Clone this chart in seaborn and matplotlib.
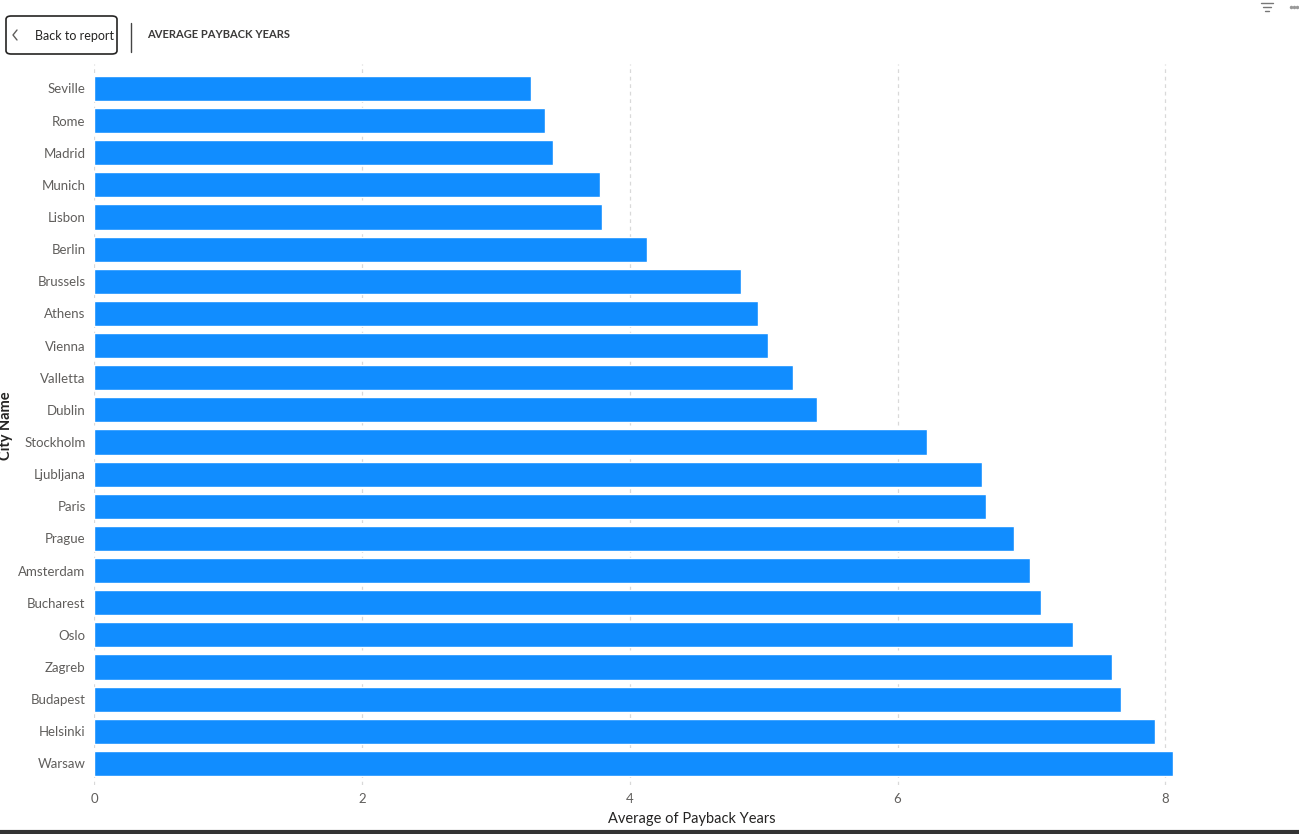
import pandas as pd
import matplotlib.pyplot as plt
import seaborn as sns
from matplotlib.patches import FancyBboxPatch

# City names and average payback years
cities = ['Seville', 'Rome', 'Madrid', 'Munich', 'Lisbon', 'Berlin', 'Brussels',
          'Athens', 'Vienna', 'Valletta', 'Dublin', 'Stockholm', 'Ljubljana',
          'Paris', 'Prague', 'Amsterdam', 'Bucharest', 'Oslo', 'Zagreb',
          'Budapest', 'Helsinki', 'Warsaw']
payback_years = [3.26, 3.37, 3.43, 3.78, 3.79, 4.13, 4.83, 4.96, 5.03, 5.22,
                 5.40, 6.22, 6.63, 6.66, 6.87, 6.99, 7.07, 7.31, 7.60, 7.67,
                 7.92, 8.06]
x_ticks = [0, 2, 4, 6, 8]

BAR_COLOR = '#118DFF'
TEXT_COLOR = '#605E5C'
W, H = 1299, 834


def fx(px):
    return px / W


def fy(py):
    return 1 - py / H


def main():
    df = pd.DataFrame({'City Name': cities, 'Average of Payback Years': payback_years})

    sns.set_theme(style='white')
    plt.rcParams['font.family'] = ['Lato', 'DejaVu Sans']

    fig = plt.figure(figsize=(W / 100, H / 100), dpi=100)
    ax = fig.add_axes([fx(94), fy(785), fx(1290 - 94), (785 - 64) / H])

    sns.barplot(data=df, x='Average of Payback Years', y='City Name', color=BAR_COLOR,
                saturation=1, width=0.78, ax=ax, orient='h')

    ax.set_xlim(0, 8.93)
    ax.set_ylim(21.67, -0.76)
    ax.set_xticks(x_ticks)
    ax.xaxis.grid(True, linestyle=(0, (3, 3)), color='#D9D9D9', linewidth=0.9)
    ax.set_axisbelow(True)
    for spine in ax.spines.values():
        spine.set_visible(False)
    ax.tick_params(axis='y', length=0, labelsize=9.5, colors=TEXT_COLOR, pad=6)
    ax.tick_params(axis='x', length=0, labelsize=9.5, colors=TEXT_COLOR, pad=6)
    ax.set_xlabel('Average of Payback Years', fontsize=10.5, color='#252423', labelpad=5)
    ax.set_ylabel('')
    fig.text(fx(6), fy(426), 'City Name', rotation=90, fontsize=10.5,
             fontweight='bold', color='#252423', va='center', ha='center')

    # Report header: back button, divider and title
    btn = FancyBboxPatch((fx(6), fy(54)), fx(111), 38 / H,
                         boxstyle='round,pad=0,rounding_size=0.004',
                         transform=fig.transFigure, facecolor='white',
                         edgecolor='#252423', linewidth=1.2)
    fig.patches.append(btn)
    fig.add_artist(plt.Line2D([fx(17), fx(13), fx(17)], [fy(30), fy(35), fy(40)],
                              transform=fig.transFigure, color=TEXT_COLOR, linewidth=1))
    fig.text(fx(35), fy(36), 'Back to report', fontsize=9, color='#252423',
             va='center', ha='left')
    fig.add_artist(plt.Line2D([fx(131), fx(131)], [fy(23), fy(52)],
                              transform=fig.transFigure, color='#444444', linewidth=1))
    fig.text(fx(147), fy(35), 'AVERAGE PAYBACK YEARS', fontsize=8,
             fontweight='bold', color='#3B3A39', va='center', ha='left')

    # Top-right visual icons
    for w, y in [(12, 3), (8, 7), (4, 11)]:
        fig.add_artist(plt.Line2D([fx(1267 - w / 2), fx(1267 + w / 2)], [fy(y), fy(y)],
                                  transform=fig.transFigure, color='#777777', linewidth=1))
    fig.add_artist(plt.Line2D([fx(1291), fx(1294), fx(1297)], [fy(7)] * 3,
                              transform=fig.transFigure, linestyle='none', marker='o',
                              markersize=1.5, color='#999999'))

    # Dark border at bottom of the page
    fig.add_artist(plt.Line2D([0, 1], [fy(832), fy(832)],
                              transform=fig.transFigure, color='#333333', linewidth=3))

    fig.savefig('out.png', dpi=100)


if __name__ == "__main__":
    main()
